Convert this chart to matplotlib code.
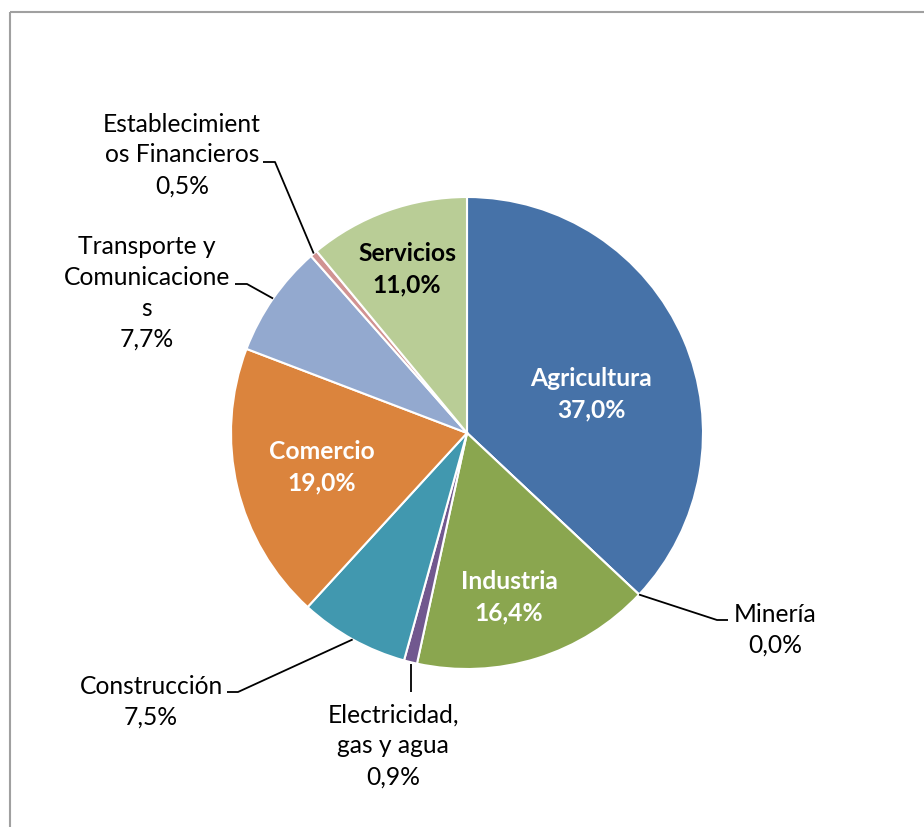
import numpy as np
import matplotlib
matplotlib.use('Agg')
import matplotlib.pyplot as plt
from matplotlib.patches import Rectangle

# sectores, en el orden del grafico (sentido horario desde arriba)
sectores = ['Agricultura', 'Minería', 'Industria', 'Electricidad,\ngas y agua',
            'Construcción', 'Comercio', 'Transporte y\nComunicacione\ns',
            'Establecimient\nos Financieros', 'Servicios']
valores = [37.0, 0.0, 16.4, 0.9, 7.5, 19.0, 7.7, 0.5, 11.0]
colores = ['#4672A8', '#AA4643', '#8AA64F', '#71588F', '#4198AF',
           '#DB843D', '#93A9CF', '#D19392', '#B9CD96']

W, H = 924, 828
cx, cy, R = 467, 434, 236

plt.rcParams['font.family'] = ['Lato', 'DejaVu Sans']

fig = plt.figure(figsize=(W / 100, H / 100), dpi=100)
ax = fig.add_axes([0, 0, 1, 1])
ax.set_xlim(0, W)
ax.set_ylim(0, H)
ax.set_aspect('equal')
ax.axis('off')

# marco gris
fig.patches.append(Rectangle((10 / W, 1 - 13 / H), 2, -2, transform=fig.transFigure,
                             fill=False, edgecolor='#A0A0A0', linewidth=1.5))

wedges, _ = ax.pie(valores, colors=colores, startangle=90, counterclock=False,
                   center=(cx, H - cy), radius=R,
                   wedgeprops=dict(edgecolor='white', linewidth=1.5))
ax.set_xlim(0, W)
ax.set_ylim(0, H)


def etiqueta(i):
    return '%s\n%s%%' % (sectores[i], ('%.1f' % valores[i]).replace('.', ','))


fs = 17.7
ls = 1.42
# etiquetas dentro
dentro = {0: (591, 394, 'white'), 2: (509, 597, 'white'),
          5: (322, 467, 'white'), 8: (407, 269, 'black')}
for i, (x, y, c) in dentro.items():
    ax.text(x, H - y, etiqueta(i), ha='center', va='center', fontsize=fs,
            fontweight='bold', color=c, linespacing=ls)

# etiquetas fuera con lineas guia: (texto x, texto y, codo x, codo y, fin x)
fuera = {1: (775, 630, 717, 621, 728),
         3: (393, 746, 411, 693, None),
         4: (151, 702, 238, 693, 227),
         6: (147, 293, 247, 285, 235),
         7: (182, 155, 275, 163, 263)}
acum = np.cumsum([0] + valores)
for i, (tx, ty, ex, ey, fx) in fuera.items():
    mid = (acum[i] + acum[i + 1]) / 2 / 100.0
    ang = np.deg2rad(90 - 360 * mid)
    px, py = cx + R * np.cos(ang), cy - R * np.sin(ang)
    if fx is None:
        xs, ys = [ex, ex], [py + 2, ey]
    else:
        xs, ys = [px, ex, fx], [py, ey, ey]
    ax.plot(xs, [H - v for v in ys], color='black', linewidth=1.3,
            solid_capstyle='butt')
    ax.text(tx, H - ty, etiqueta(i), ha='center', va='center', fontsize=fs,
            color='black', linespacing=ls)

fig.savefig('out.png', dpi=100)
